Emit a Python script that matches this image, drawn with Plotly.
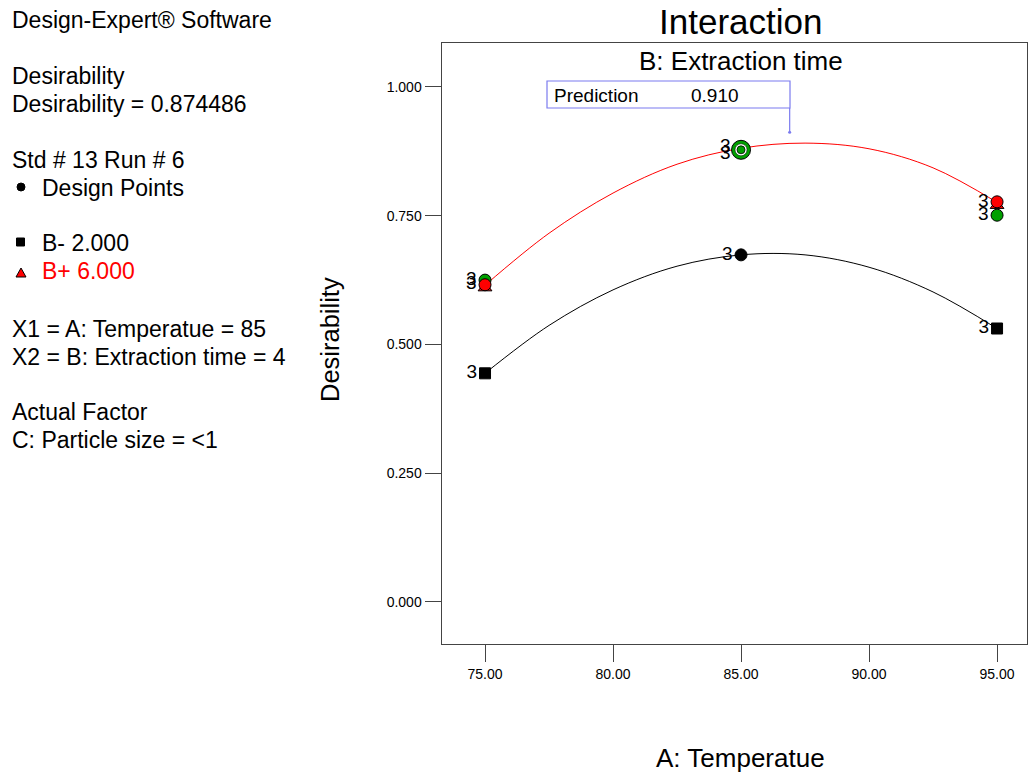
import plotly.graph_objects as go

# ---------------- data ----------------
x_curve = [75, 77.5, 80, 82.5, 85, 87.5, 90, 92.5, 95]
b_minus_curve = [0.444, 0.537, 0.606, 0.652, 0.674, 0.674, 0.650, 0.602, 0.531]
b_plus_curve = [0.615, 0.716, 0.794, 0.850, 0.881, 0.891, 0.880, 0.843, 0.776]

sq_x = [75, 95]
sq_y = [0.444, 0.531]
tri_x = [75, 95]
tri_y = [0.610, 0.770]
red_x = [75, 95]
red_y = [0.616, 0.777]
green_x = [75, 95]
green_y = [0.625, 0.751]
center_x = [85]
center_y = [0.674]
current_x = [85]
current_y = [0.878]
rep_labels = ["3", "3"]

pred_x = 86.9
pred_y = 0.912
pred_value = "0.910"

x_ticks = [75, 80, 85, 90, 95]
y_ticks = [0.0, 0.25, 0.5, 0.75, 1.0]

info_lines = [
    ("Design-Expert® Software", 20, "black"),
    ("Desirability", 76, "black"),
    ("Desirability = 0.874486", 104, "black"),
    ("Std # 13 Run # 6", 160, "black"),
    ("X1 = A: Temperatue = 85", 329, "black"),
    ("X2 = B: Extraction time = 4", 357, "black"),
    ("Actual Factor", 412, "black"),
    ("C: Particle size = <1", 440, "black"),
]

W, H = 1028, 772
FONT = "Arial, Liberation Sans, sans-serif"
RED = "#ff0000"
GREEN = "#00a000"


def px(x):
    return x / W


def py(y):
    return 1 - y / H


fig = go.Figure()

fig.add_trace(go.Scatter(x=x_curve, y=b_minus_curve, mode="lines",
                         line=dict(color="black", width=1, shape="spline"),
                         hoverinfo="skip"))
fig.add_trace(go.Scatter(x=x_curve, y=b_plus_curve, mode="lines",
                         line=dict(color=RED, width=1, shape="spline"),
                         hoverinfo="skip"))

lbl_font = dict(family=FONT, size=19, color="black")

fig.add_trace(go.Scatter(x=sq_x, y=sq_y, mode="markers+text", text=rep_labels,
                         textposition="middle left", textfont=lbl_font,
                         marker=dict(symbol="square", size=11, color="black",
                                     line=dict(color="black", width=1))))
fig.add_trace(go.Scatter(x=tri_x, y=tri_y, mode="markers",
                         marker=dict(symbol="triangle-up", size=12, color=RED,
                                     line=dict(color="black", width=1))))
fig.add_trace(go.Scatter(x=green_x, y=green_y, mode="markers+text", text=rep_labels,
                         textposition="middle left", textfont=lbl_font,
                         marker=dict(symbol="circle", size=12, color=GREEN,
                                     line=dict(color="black", width=1))))
fig.add_trace(go.Scatter(x=red_x, y=red_y, mode="markers+text", text=rep_labels,
                         textposition="middle left", textfont=lbl_font,
                         marker=dict(symbol="circle", size=12, color=RED,
                                     line=dict(color="black", width=1))))
fig.add_trace(go.Scatter(x=center_x, y=center_y, mode="markers+text", text=["3"],
                         textposition="middle left", textfont=lbl_font,
                         marker=dict(symbol="circle", size=12, color="black",
                                     line=dict(color="black", width=1))))
# current design point (ring marker)
fig.add_trace(go.Scatter(x=current_x, y=current_y, mode="markers",
                         marker=dict(symbol="circle", size=19, color=GREEN,
                                     line=dict(color="black", width=1))))
fig.add_trace(go.Scatter(x=current_x, y=current_y, mode="markers",
                         marker=dict(symbol="circle", size=12, color="white",
                                     line=dict(color="black", width=0.5))))
fig.add_trace(go.Scatter(x=current_x, y=current_y, mode="markers",
                         marker=dict(symbol="circle", size=8, color=GREEN,
                                     line=dict(color="black", width=0.8))))

# prediction pointer
fig.add_trace(go.Scatter(x=[pred_x], y=[pred_y], mode="markers",
                         marker=dict(symbol="circle", size=3, color="#7b7bef")))

shapes = []
BOXC = "#7b7bef"
shapes.append(dict(type="rect", xref="paper", yref="paper",
                   x0=px(547), x1=px(790), y0=py(108), y1=py(81),
                   line=dict(color=BOXC, width=1.2), fillcolor="white"))
shapes.append(dict(type="line", xref="x", yref="paper",
                   x0=pred_x, x1=pred_x, y0=py(108),
                   y1=py(131), line=dict(color=BOXC, width=1.2)))
# legend glyphs in info panel
shapes.append(dict(type="circle", xref="paper", yref="paper",
                   x0=px(17), x1=px(25), y0=py(191), y1=py(183),
                   fillcolor="black", line=dict(color="black", width=1)))
shapes.append(dict(type="rect", xref="paper", yref="paper",
                   x0=px(16.5), x1=px(24.5), y0=py(246), y1=py(238),
                   fillcolor="black", line=dict(color="black", width=1)))
shapes.append(dict(type="path", xref="paper", yref="paper",
                   path=f"M {px(16)} {py(277)} L {px(26)} {py(277)} L {px(21)} {py(268)} Z",
                   fillcolor=RED, line=dict(color="black", width=1)))

annotations = []
# replicate labels for the current (ring) point
for ys in (4, -3):
    annotations.append(dict(text="3", x=current_x[0], y=current_y[0], xref="x", yref="y",
                            xanchor="right", yanchor="middle", xshift=-8, yshift=ys,
                            showarrow=False, font=lbl_font))

for txt, yy, col in info_lines:
    annotations.append(dict(text=txt, x=px(10), y=py(yy), xref="paper", yref="paper",
                            xanchor="left", yanchor="middle", showarrow=False,
                            font=dict(family=FONT, size=23, color=col)))
annotations.append(dict(text="Design Points", x=px(40), y=py(188), xref="paper", yref="paper",
                        xanchor="left", yanchor="middle", showarrow=False,
                        font=dict(family=FONT, size=23, color="black")))
annotations.append(dict(text="B- 2.000", x=px(40), y=py(243), xref="paper", yref="paper",
                        xanchor="left", yanchor="middle", showarrow=False,
                        font=dict(family=FONT, size=23, color="black")))
annotations.append(dict(text="B+ 6.000", x=px(40), y=py(271), xref="paper", yref="paper",
                        xanchor="left", yanchor="middle", showarrow=False,
                        font=dict(family=FONT, size=23, color=RED)))
annotations.append(dict(text="Interaction", x=px(740), y=py(22), xref="paper", yref="paper",
                        xanchor="center", yanchor="middle", showarrow=False,
                        font=dict(family=FONT, size=35, color="black")))
annotations.append(dict(text="B: Extraction time", x=px(741), y=py(61), xref="paper", yref="paper",
                        xanchor="center", yanchor="middle", showarrow=False,
                        font=dict(family=FONT, size=26, color="black")))
annotations.append(dict(text="A: Temperatue", x=px(740), y=py(758), xref="paper", yref="paper",
                        xanchor="center", yanchor="middle", showarrow=False,
                        font=dict(family=FONT, size=26, color="black")))
annotations.append(dict(text="Desirability", x=px(330), y=py(340), xref="paper", yref="paper",
                        xanchor="center", yanchor="middle", showarrow=False, textangle=-90,
                        font=dict(family=FONT, size=25.5, color="black")))
annotations.append(dict(text="Prediction", x=px(552), y=py(95), xref="paper", yref="paper",
                        xanchor="left", yanchor="middle", showarrow=False,
                        font=dict(family=FONT, size=19, color="black")))
annotations.append(dict(text=pred_value, x=px(689), y=py(95), xref="paper", yref="paper",
                        xanchor="left", yanchor="middle", showarrow=False,
                        font=dict(family=FONT, size=19, color="black")))

fig.update_layout(
    width=W, height=H,
    margin=dict(l=0, r=0, t=0, b=0),
    paper_bgcolor="white", plot_bgcolor="white",
    showlegend=False,
    shapes=shapes,
    annotations=annotations,
    xaxis=dict(domain=[441.5 / W, 1027 / W], range=[73.30, 96.17],
               tickvals=x_ticks, tickformat=".2f",
               ticks="outside", ticklen=17, tickcolor="#444", tickwidth=1,
               showline=True, linecolor="#444", linewidth=1, mirror=True,
               showgrid=False, zeroline=False,
               tickfont=dict(family=FONT, size=14, color="black")),
    yaxis=dict(domain=[1 - 644 / H, 1 - 43 / H], range=[-0.0816, 1.0854],
               tickvals=y_ticks, tickformat=".3f",
               ticks="outside", ticklen=16, tickcolor="#444", tickwidth=1,
               showline=True, linecolor="#444", linewidth=1, mirror=True,
               showgrid=False, zeroline=False,
               tickfont=dict(family=FONT, size=14, color="black")),
)

fig.write_html("out.html")
